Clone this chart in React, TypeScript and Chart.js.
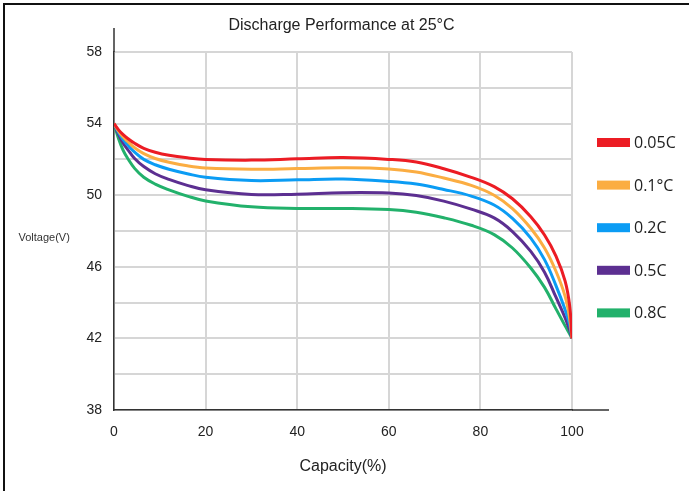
import React, { useEffect, useRef } from 'react';
import { Chart, registerables } from 'chart.js';

Chart.register(...registerables);

// Capacity (%) sample positions shared by every curve
const capacity = [0, 1, 2, 3, 4.5, 6.5, 9, 12, 16, 20, 30, 40, 50, 60, 66, 72, 78, 83, 87, 91, 94, 96.5, 98.5, 99.5, 100];

// Voltage (V) per discharge rate
const rateLabels = ['0.05C', '0.1°C', '0.2C', '0.5C', '0.8C'];
const v005C = [54, 53.65, 53.38, 53.17, 52.9, 52.62, 52.4, 52.23, 52.09, 52.0, 51.96, 52.03, 52.1, 52.0, 51.85, 51.48, 51.0, 50.48, 49.8, 48.8, 47.78, 46.6, 45.2, 43.8, 42];
const v01C = [54, 53.58, 53.25, 53.0, 52.65, 52.32, 52.05, 51.84, 51.64, 51.52, 51.45, 51.49, 51.53, 51.47, 51.3, 50.96, 50.55, 50.0, 49.25, 48.15, 47.05, 45.75, 44.35, 43.1, 42];
const v02C = [54, 53.5, 53.1, 52.8, 52.4, 52.0, 51.7, 51.45, 51.2, 51.0, 50.82, 50.86, 50.9, 50.77, 50.62, 50.32, 49.95, 49.45, 48.7, 47.6, 46.4, 44.95, 43.6, 42.75, 42];
const v05C = [54, 53.4, 52.9, 52.55, 52.05, 51.6, 51.2, 50.88, 50.55, 50.3, 50.04, 50.06, 50.14, 50.12, 49.98, 49.67, 49.22, 48.73, 47.97, 46.86, 45.7, 44.3, 43.15, 42.45, 42];
const v08C = [54, 53.15, 52.5, 52.05, 51.5, 51.0, 50.62, 50.3, 49.95, 49.68, 49.35, 49.26, 49.26, 49.2, 49.05, 48.74, 48.32, 47.8, 47.05, 45.93, 44.85, 43.65, 42.7, 42.25, 42];
const seriesValues = [v005C, v01C, v02C, v05C, v08C];
const seriesColors = ['#ec1c24', '#fbad42', '#0b9cf4', '#5c2f91', '#22b16b'];

// Axis ticks
const yLabelTicks = [38, 42, 46, 50, 54, 58];
const xMin = 0, xMax = 100, xStep = 20;
const yMin = 38, yMax = 58, yStep = 2;

const FONT = '"Liberation Sans", Arial, sans-serif';

const decorPlugin = {
  id: 'decor',
  beforeDatasetsDraw(chart: any) {
    const { ctx, chartArea } = chart;
    ctx.save();
    ctx.strokeStyle = '#333';
    ctx.lineWidth = 1.5;
    ctx.beginPath();
    ctx.moveTo(chartArea.left, chartArea.top - 24);
    ctx.lineTo(chartArea.left, chartArea.top);
    ctx.moveTo(chartArea.right, chartArea.bottom);
    ctx.lineTo(chartArea.right + 37, chartArea.bottom);
    ctx.stroke();
    ctx.restore();
  },
  afterDraw(chart: any) {
    const { ctx, chartArea } = chart;
    ctx.save();
    // horizontal y-axis title
    ctx.font = '11px ' + FONT;
    ctx.fillStyle = '#333';
    ctx.textAlign = 'left';
    ctx.textBaseline = 'middle';
    ctx.fillText('Voltage(V)', 18.5, 238);
    // legend
    ctx.font = '16px "Open Sans", sans-serif';
    chart.data.datasets.forEach((ds: any, i: number) => {
      const cy = chartArea.top + 90.5 + i * 42.6;
      ctx.fillStyle = ds.borderColor;
      ctx.fillRect(chartArea.right + 25, cy - 4.5, 33, 9);
      ctx.fillStyle = '#222';
      ctx.fillText(ds.label, chartArea.right + 62, cy + 1);
    });
    ctx.restore();
  },
};

export default function App() {
  const canvasRef = useRef<HTMLCanvasElement | null>(null);

  useEffect(() => {
    if (!canvasRef.current) return;
    const chart = new Chart(canvasRef.current, {
      type: 'line',
      data: {
        datasets: rateLabels.map((label, s) => ({
          label,
          data: capacity.map((x, i) => ({ x, y: seriesValues[s][i] })),
          borderColor: seriesColors[s],
          backgroundColor: seriesColors[s],
          borderWidth: 3,
          pointRadius: 0,
          fill: false,
          tension: 0.4,
        })),
      },
      options: {
        responsive: false,
        animation: false,
        layout: { padding: { left: 0, right: 6, top: 0, bottom: 0 } },
        plugins: {
          legend: { display: false },
          tooltip: { enabled: false },
          title: {
            display: true,
            text: 'Discharge Performance at 25°C',
            color: '#222',
            font: { family: FONT, size: 16, weight: 'normal' },
            padding: { top: 15.5, bottom: 17.3 },
          },
        },
        scales: {
          x: {
            type: 'linear',
            min: xMin,
            max: xMax,
            ticks: { stepSize: xStep, color: '#222', font: { family: FONT, size: 14 }, padding: 14 },
            grid: { color: '#d6d6d6', lineWidth: 2, drawTicks: false },
            border: { color: '#333', width: 1.5 },
            title: {
              display: true,
              text: 'Capacity(%)',
              color: '#222',
              font: { family: FONT, size: 16 },
              padding: { top: 0, bottom: 14.7 },
            },
            afterFit: (scale: any) => { scale.height = 81; },
          },
          y: {
            type: 'linear',
            min: yMin,
            max: yMax,
            ticks: {
              stepSize: yStep,
              color: '#222',
              font: { family: FONT, size: 14 },
              padding: 12,
              callback: (v: any) => (yLabelTicks.includes(Number(v)) ? String(v) : ''),
            },
            grid: { color: '#d6d6d6', lineWidth: 2, drawTicks: false },
            border: { color: '#333', width: 1.5 },
            afterFit: (scale: any) => { scale.width = 114; },
          },
          yRight: {
            type: 'linear',
            axis: 'y',
            position: 'right',
            display: true,
            ticks: { display: false },
            grid: { display: false, drawTicks: false },
            border: { display: false },
            afterFit: (scale: any) => { scale.width = 111; },
          },
        },
      },
      plugins: [decorPlugin],
    } as any);
    return () => chart.destroy();
  }, []);

  return (
    <div style={{ position: 'absolute', left: 0, top: 0, width: 689, height: 491, background: '#fff', overflow: 'hidden' }}>
      <canvas ref={canvasRef} width={689} height={491} style={{ display: 'block' }} />
      <div
        style={{
          position: 'absolute',
          left: 3,
          top: 3,
          right: 0,
          bottom: 0,
          borderTop: '2px solid #111',
          borderLeft: '2px solid #111',
          pointerEvents: 'none',
        }}
      />
    </div>
  );
}
